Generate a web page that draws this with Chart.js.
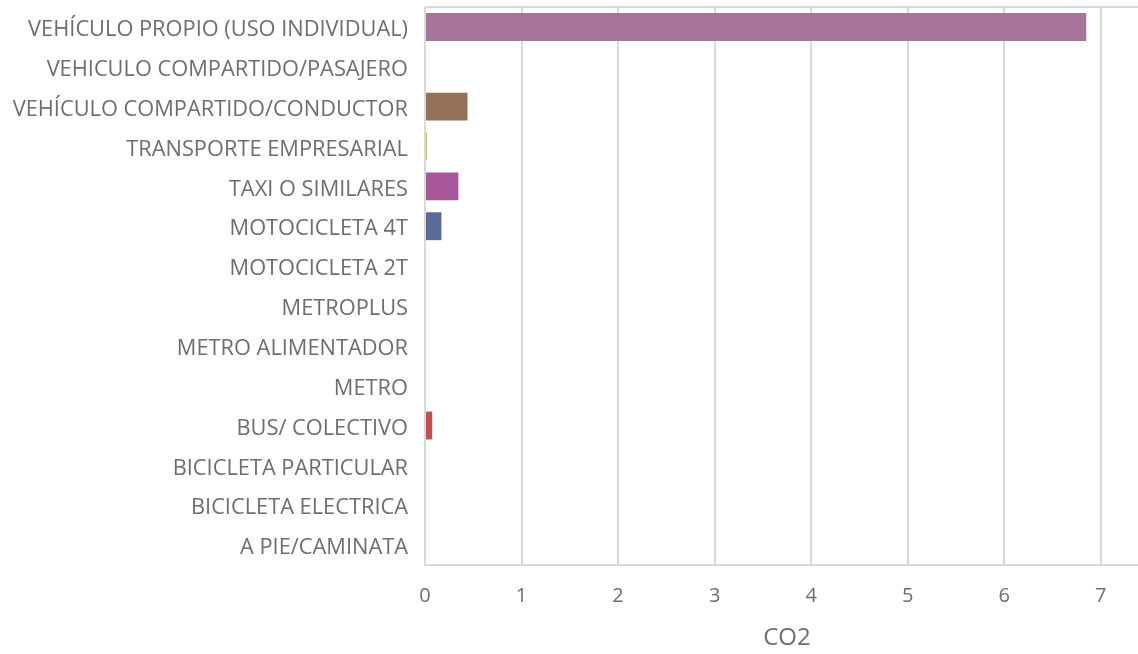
<!DOCTYPE html>
<html>
<head>
<meta charset="utf-8">
<title>CO2 por modo de transporte</title>
<script src="https://cdn.jsdelivr.net/npm/chart.js@4.4.1/dist/chart.umd.min.js"></script>
<style>
  html, body { margin: 0; padding: 0; background: #ffffff; overflow: hidden; }
  #wrap { position: relative; width: 1149px; height: 654px; }
</style>
</head>
<body>
<div id="wrap"><canvas id="chart"></canvas></div>
<script>
// Modos de transporte (de arriba hacia abajo)
const categories = [
  'VEHÍCULO PROPIO (USO INDIVIDUAL)',
  'VEHICULO COMPARTIDO/PASAJERO',
  'VEHÍCULO COMPARTIDO/CONDUCTOR',
  'TRANSPORTE EMPRESARIAL',
  'TAXI O SIMILARES',
  'MOTOCICLETA 4T',
  'MOTOCICLETA 2T',
  'METROPLUS',
  'METRO ALIMENTADOR',
  'METRO',
  'BUS/ COLECTIVO',
  'BICICLETA PARTICULAR',
  'BICICLETA ELECTRICA',
  'A PIE/CAMINATA'
];

// Emisiones de CO2 por modo
const co2Values = [6.85, 0, 0.44, 0.02, 0.345, 0.17, 0, 0, 0, 0, 0.075, 0, 0, 0];

// Un color por barra
const barColors = [
  '#A6769A', '#7F9FC9', '#957058', '#B5C062', '#A8559A', '#5B6A97', '#8FB3D9',
  '#C28E5C', '#9BBB59', '#8064A2', '#C0504D', '#4BACC6', '#F79646', '#4F81BD'
];

// Marcas del eje horizontal
const xTicks = [0, 1, 2, 3, 4, 5, 6, 7];
const xAxisTitle = 'CO2';

const textColor = '#6e6e6e';
const gridColor = '#d9d9d9';
const fontFamily = "'Open Sans', 'Noto Sans', sans-serif";

// Línea superior del área de trazado
const topBorder = {
  id: 'topBorder',
  afterDraw(chart) {
    const { ctx, chartArea } = chart;
    ctx.save();
    ctx.strokeStyle = gridColor;
    ctx.lineWidth = 2;
    ctx.beginPath();
    ctx.moveTo(chartArea.left, chartArea.top);
    ctx.lineTo(chartArea.right, chartArea.top);
    ctx.stroke();
    ctx.restore();
  }
};

new Chart(document.getElementById('chart'), {
  type: 'bar',
  data: {
    labels: categories,
    datasets: [{
      label: xAxisTitle,
      data: co2Values,
      backgroundColor: barColors,
      borderWidth: 0,
      categoryPercentage: 1,
      barPercentage: 0.7
    }]
  },
  options: {
    indexAxis: 'y',
    responsive: true,
    maintainAspectRatio: false,
    animation: false,
    layout: { padding: { top: 7, left: 0, right: 0, bottom: 0 } },
    plugins: {
      legend: { display: false },
      tooltip: { enabled: false }
    },
    scales: {
      x: {
        min: 0,
        max: 7.5,
        afterBuildTicks(scale) {
          scale.ticks = xTicks.map(v => ({ value: v }));
        },
        afterFit(scale) {
          scale.height = 89;
          scale.paddingLeft = 0;
          scale.paddingRight = 0;
        },
        grid: { color: gridColor, lineWidth: 2, drawTicks: false },
        border: { color: gridColor, width: 2 },
        ticks: {
          color: textColor,
          padding: 19,
          font: { family: fontFamily, size: 20 }
        },
        title: {
          display: true,
          text: xAxisTitle,
          color: textColor,
          padding: { top: 4, bottom: 1 },
          font: { family: fontFamily, size: 24 }
        }
      },
      y: {
        afterFit(scale) {
          scale.width = 425;
          scale.paddingTop = 0;
          scale.paddingBottom = 0;
        },
        grid: { display: false, drawTicks: false },
        border: { display: false },
        ticks: {
          color: textColor,
          padding: 17,
          labelOffset: 3,
          autoSkip: false,
          font: { family: fontFamily, size: 21.8 }
        }
      }
    }
  },
  plugins: [topBorder]
});
</script>
</body>
</html>
